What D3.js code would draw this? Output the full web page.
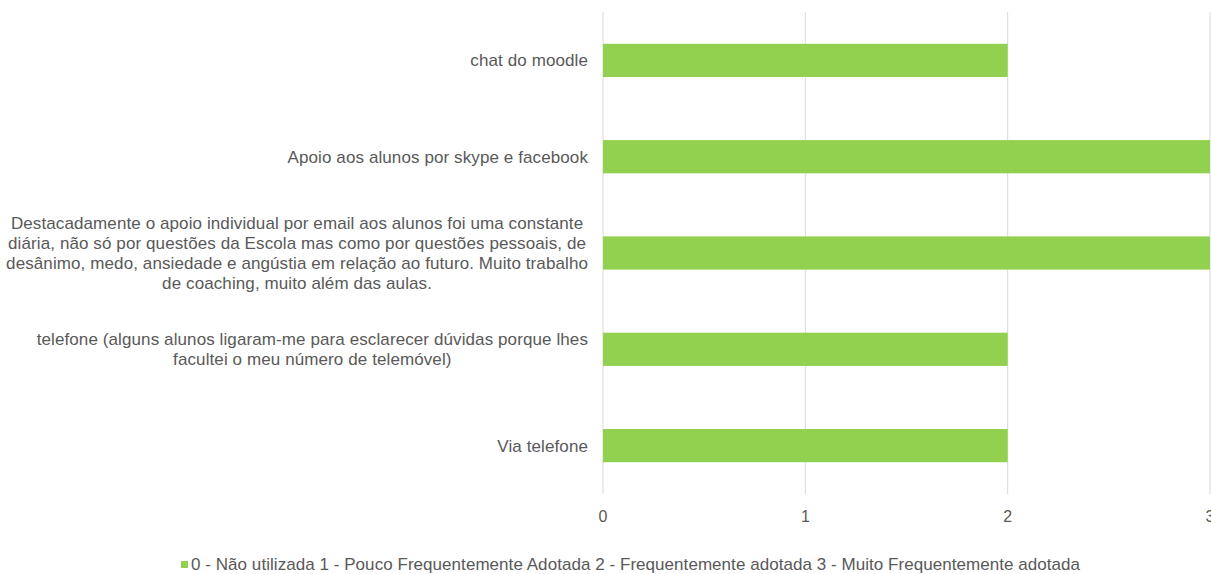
<!DOCTYPE html>
<html>
<head>
<meta charset="utf-8">
<script src="https://cdn.jsdelivr.net/npm/d3@7"></script>
<style>
  body { margin: 0; background: #fff; }
  svg { display: block; font-family: "Liberation Sans", Arial, sans-serif; }
</style>
</head>
<body>
<svg id="chart" width="1211" height="574"></svg>
<script>
// categories top to bottom, each label split into its lines
const categories = [
  ["chat do moodle "],
  ["Apoio aos alunos por skype e facebook"],
  ["Destacadamente o apoio individual por email aos alunos foi uma constante",
   "diária, não só por questões da Escola mas como por questões pessoais, de",
   "desânimo, medo, ansiedade e angústia em relação ao futuro. Muito trabalho",
   "de coaching, muito além das aulas."],
  ["telefone (alguns alunos ligaram-me para esclarecer dúvidas porque lhes",
   "facultei o meu número de telemóvel)"],
  ["Via telefone"]
];
const values = [2, 3, 3, 2, 2];
const xTicks = [0, 1, 2, 3];
const legendText = "0 - Não utilizada 1 - Pouco Frequentemente Adotada 2 - Frequentemente adotada 3 - Muito Frequentemente adotada";

const svg = d3.select('#chart');
const textColor = '#595959';
const barColor = '#92d050';

const x = d3.scaleLinear().domain([0, 3]).range([603, 1210]);
const y = d3.scaleBand().domain(d3.range(categories.length)).range([12, 494]).paddingInner(0.655).paddingOuter(0.33);

// grid
svg.append('g').selectAll('line').data(xTicks).join('line')
  .attr('x1', d => x(d)).attr('x2', d => x(d))
  .attr('y1', 12).attr('y2', 494)
  .attr('stroke', '#d9d9d9').attr('stroke-width', 1);

// bars
svg.append('g').selectAll('rect').data(values).join('rect')
  .attr('x', x(0)).attr('y', (d, i) => y(i))
  .attr('width', d => x(d) - x(0)).attr('height', y.bandwidth())
  .attr('fill', barColor);

// tick labels
svg.append('g').selectAll('text').data(xTicks).join('text')
  .attr('x', d => x(d)).attr('y', 516).attr('dy', '0.35em')
  .attr('text-anchor', 'middle')
  .attr('font-size', 16).attr('fill', textColor)
  .text(d => d);

// category labels: block right-aligned, lines centered within the block
const labelRight = 588;
const lineH = 20;
categories.forEach((lines, i) => {
  const g = svg.append('g');
  const texts = lines.map(l => g.append('text')
    .attr('font-size', 17).attr('letter-spacing', 0.1).attr('fill', textColor)
    .attr('text-anchor', 'middle').text(l));
  const maxW = d3.max(texts, t => t.node().getComputedTextLength());
  const cx = labelRight - maxW / 2;
  const cy = y(i) + y.bandwidth() / 2;
  const top = cy - (lines.length - 1) * lineH / 2;
  texts.forEach((t, j) => t.attr('x', cx).attr('y', top + j * lineH).attr('dy', '0.35em'));
});

// legend
const lg = svg.append('g');
lg.append('text').attr('font-size', 17).attr('letter-spacing', 0.05).attr('fill', textColor)
  .attr('x', 191).attr('y', 564.5).attr('dy', '0.35em').text(legendText);
lg.append('rect').attr('x', 181).attr('y', 561).attr('width', 7).attr('height', 7).attr('fill', barColor);
</script>
</body>
</html>
